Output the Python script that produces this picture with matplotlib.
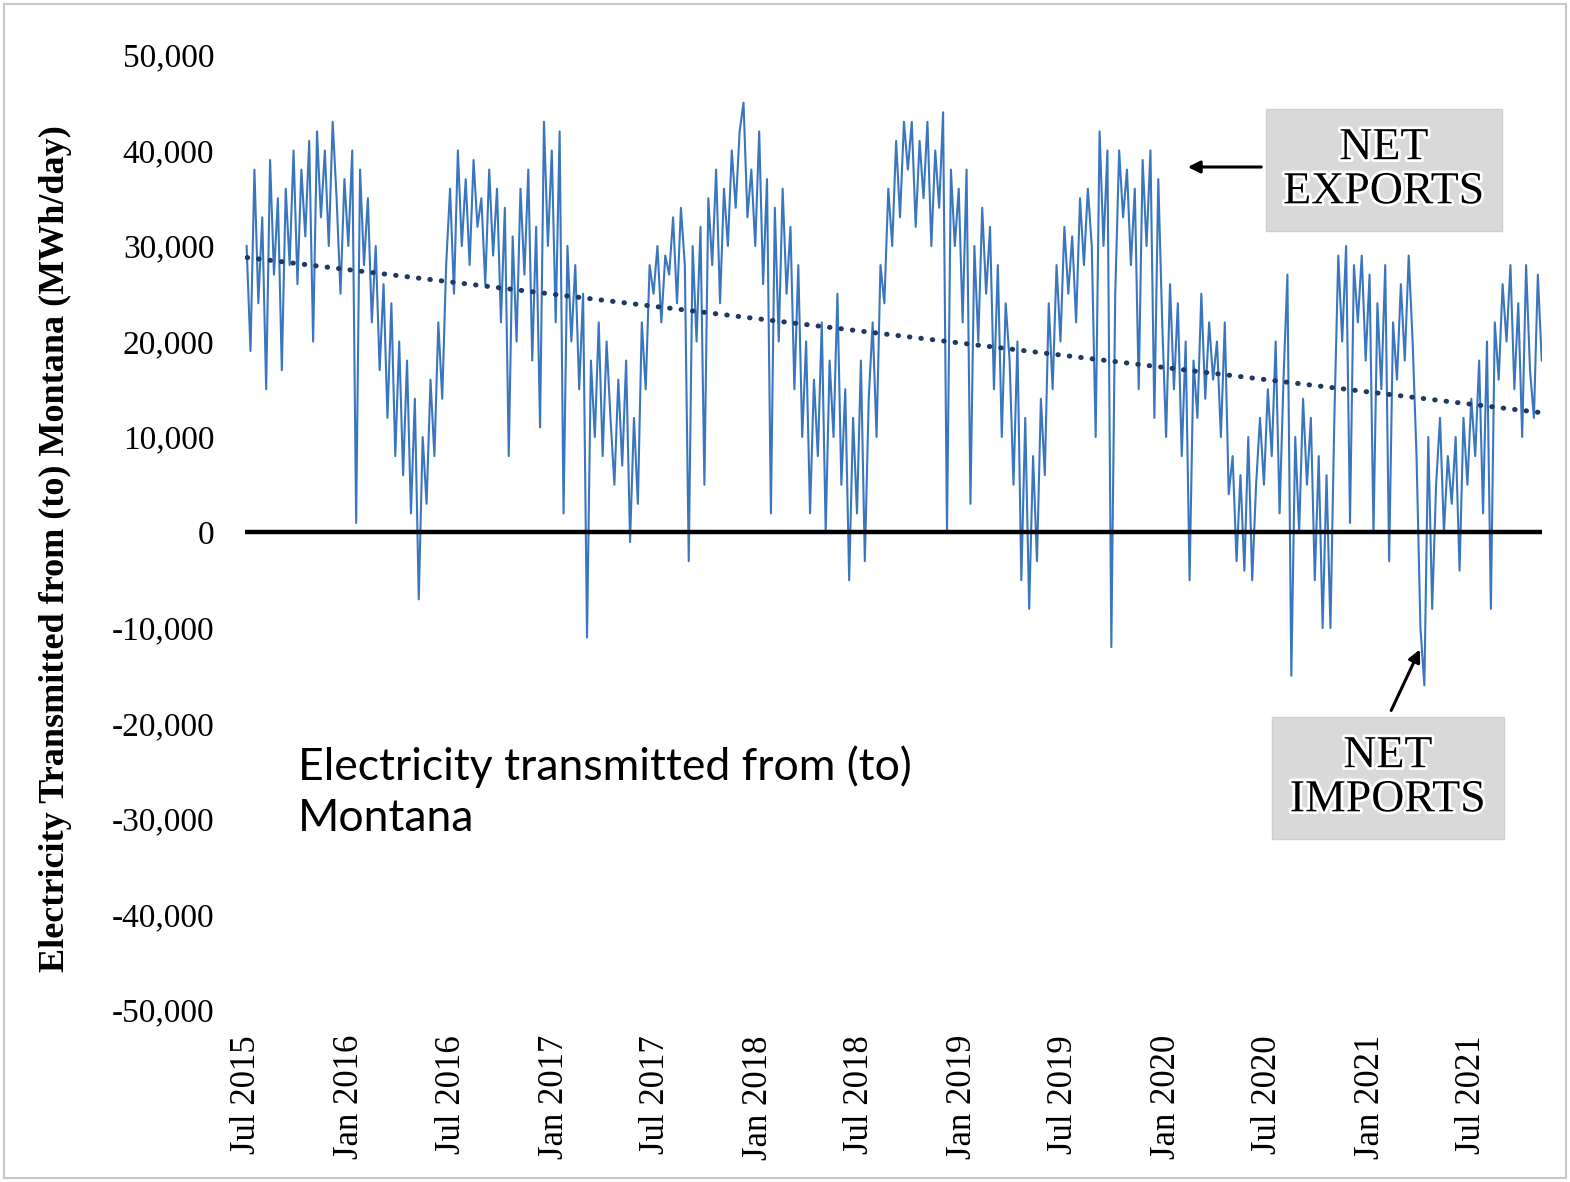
import numpy as np
import pandas as pd
import matplotlib
matplotlib.use("Agg")
import matplotlib.pyplot as plt
import matplotlib.dates as mdates
import matplotlib.patheffects as pe
from matplotlib.patches import Rectangle

# weekly readings (thousand MWh/day), one row per quarter, Jul 2015 .. Oct 2021
start_date = "2015-07-01"
step_days = 7
q_values = [
    [30, 19, 38, 24, 33, 15, 39, 27, 35, 17, 36, 28, 40],     # Q3 2015
    [26, 38, 31, 41, 20, 42, 33, 40, 30, 43, 35, 25, 37],     # Q4 2015
    [30, 40, 1, 38, 28, 35, 22, 30, 17, 26, 12, 24, 8],       # Q1 2016
    [20, 6, 18, 2, 14, -7, 10, 3, 16, 8, 22, 14, 28],         # Q2 2016
    [36, 25, 40, 30, 37, 28, 39, 32, 35, 26, 38, 29, 36],     # Q3 2016
    [22, 34, 8, 31, 20, 36, 27, 38, 18, 32, 11, 43, 30],      # Q4 2016
    [40, 22, 42, 2, 30, 20, 28, 15, 25, -11, 18, 10, 22],     # Q1 2017
    [8, 20, 12, 5, 16, 7, 18, -1, 12, 3, 22, 15, 28],         # Q2 2017
    [25, 30, 22, 29, 27, 33, 24, 34, 28, -3, 30, 20, 32],     # Q3 2017
    [5, 35, 28, 38, 24, 36, 30, 40, 34, 42, 45, 33, 38],      # Q4 2017
    [30, 42, 26, 37, 2, 34, 20, 36, 25, 32, 15, 28, 10],      # Q1 2018
    [20, 2, 16, 8, 22, 0, 18, 10, 25, 5, 15, -5, 12],         # Q2 2018
    [2, 18, -3, 14, 22, 10, 28, 24, 36, 30, 41, 33, 43],      # Q3 2018
    [38, 43, 32, 41, 35, 43, 30, 40, 34, 44, 0, 38, 30],      # Q4 2018
    [36, 22, 38, 3, 30, 20, 34, 25, 32, 15, 28, 10, 24],      # Q1 2019
    [18, 5, 20, -5, 12, -8, 8, -3, 14, 6, 24, 15, 28],        # Q2 2019
    [20, 32, 25, 31, 22, 35, 28, 36, 30, 10, 42, 30, 40],     # Q3 2019
    [-12, 25, 40, 33, 38, 28, 36, 15, 39, 30, 40, 12, 37],    # Q4 2019
    [22, 10, 26, 15, 24, 8, 20, -5, 18, 12, 25, 14, 22],      # Q1 2020
    [16, 20, 10, 22, 4, 8, -3, 6, -4, 10, -5, 5, 12],         # Q2 2020
    [5, 15, 8, 20, 2, 16, 27, -15, 10, 0, 14, 5, 12],         # Q3 2020
    [-5, 8, -10, 6, -10, 12, 29, 20, 30, 1, 28, 22, 29],      # Q4 2020
    [18, 27, 0, 24, 15, 28, -3, 22, 16, 26, 18, 29, 20],      # Q1 2021
    [8, -10, -16, 10, -8, 5, 12, 0, 8, 3, 10, -4, 12],        # Q2 2021
    [5, 14, 8, 18, 2, 20, -8, 22, 16, 26, 20, 28, 15],        # Q3 2021
    [24, 10, 28, 17, 12, 27, 18],                             # Oct 2021
]
tick_dates = ["2015-07-01", "2016-01-01", "2016-07-01", "2017-01-01", "2017-07-01",
              "2018-01-01", "2018-07-01", "2019-01-01", "2019-07-01", "2020-01-01",
              "2020-07-01", "2021-01-01", "2021-07-01"]
tick_labels = ["Jul 2015", "Jan 2016", "Jul 2016", "Jan 2017", "Jul 2017", "Jan 2018",
               "Jul 2018", "Jan 2019", "Jul 2019", "Jan 2020", "Jul 2020", "Jan 2021",
               "Jul 2021"]
y_ticks = [50000, 40000, 30000, 20000, 10000, 0, -10000, -20000, -30000, -40000, -50000]

values = np.array([v for q in q_values for v in q], dtype=float) * 1000
days = np.arange(len(values)) * step_days
dates = pd.Timestamp(start_date) + pd.to_timedelta(days, unit="D")
x = mdates.date2num(dates)

# linear trend like the spreadsheet trendline
slope, icpt = np.polyfit(x, values, 1)
x_start = mdates.date2num(pd.Timestamp("2015-06-28"))
x_end = x[-1]
trend_x = np.array([x_start + 4, x_end])

serif = "Liberation Serif"

fig = plt.figure(figsize=(15.7, 11.82), dpi=100)
ax = fig.add_axes([0.156, 0.1455, 0.826, 0.808])

ax.plot(x, values, color="#3a76bf", lw=1.5)
ax.plot(trend_x, slope * trend_x + icpt, color="#1f3864", lw=3.6,
        linestyle=(0, (0.1, 2.2)), dash_capstyle="round")
ax.axhline(0, color="black", lw=3.2)

ax.set_xlim(x_start, x_end)
ax.set_ylim(-50000, 50000)
for s in ax.spines.values():
    s.set_visible(False)

ax.set_yticks(y_ticks)
ax.set_yticklabels([f"{v:,}" for v in y_ticks], fontfamily=serif, fontsize=24)
ax.set_xticks(mdates.date2num(pd.to_datetime(tick_dates)))
ax.set_xticklabels(tick_labels, rotation=90, fontfamily=serif, fontsize=25)
ax.tick_params(axis="y", length=0, pad=22)
ax.tick_params(axis="x", length=0, pad=18)

ax.set_ylabel("Electricity Transmitted from (to) Montana (MWh/day)",
              fontfamily=serif, fontweight="bold", fontsize=26)
ax.yaxis.set_label_coords(-0.133, 0.483)

ax.text(0.041, 0.228, "Electricity transmitted from (to)\nMontana", transform=ax.transAxes,
        fontfamily="Lato", fontsize=32, va="center", ha="left", linespacing=1.3)

glow = [pe.withStroke(linewidth=4, foreground="white")]
box = dict(boxstyle="square,pad=0.38", fc="#d9d9d9", ec="#cfcfcf")
fig.text(1384 / 1570, 1 - 170 / 1182, "NET\nEXPORTS", fontfamily=serif, fontsize=33,
         ha="center", va="center", linespacing=1.05, bbox=box, path_effects=glow)
fig.text(1388 / 1570, 1 - 778 / 1182, "NET\nIMPORTS", fontfamily=serif, fontsize=33,
         ha="center", va="center", linespacing=1.05, bbox=box, path_effects=glow)

ax.annotate("", xy=(1185 / 1570, 1 - 167 / 1182), xytext=(1264 / 1570, 1 - 167 / 1182),
            xycoords="figure fraction", textcoords="figure fraction",
            arrowprops=dict(arrowstyle="-|>", color="black", lw=2.2, mutation_scale=18))
ax.annotate("", xy=(1421 / 1570, 1 - 647 / 1182), xytext=(1390 / 1570, 1 - 713 / 1182),
            xycoords="figure fraction", textcoords="figure fraction",
            arrowprops=dict(arrowstyle="-|>", color="black", lw=2.2, mutation_scale=18))

fig.add_artist(Rectangle((4 / 1570, 4 / 1182), 1 - 8 / 1570, 1 - 8 / 1182,
                         transform=fig.transFigure, fill=False, ec="#c8c8c8", lw=1.5))

fig.savefig("out.png", dpi=100)
